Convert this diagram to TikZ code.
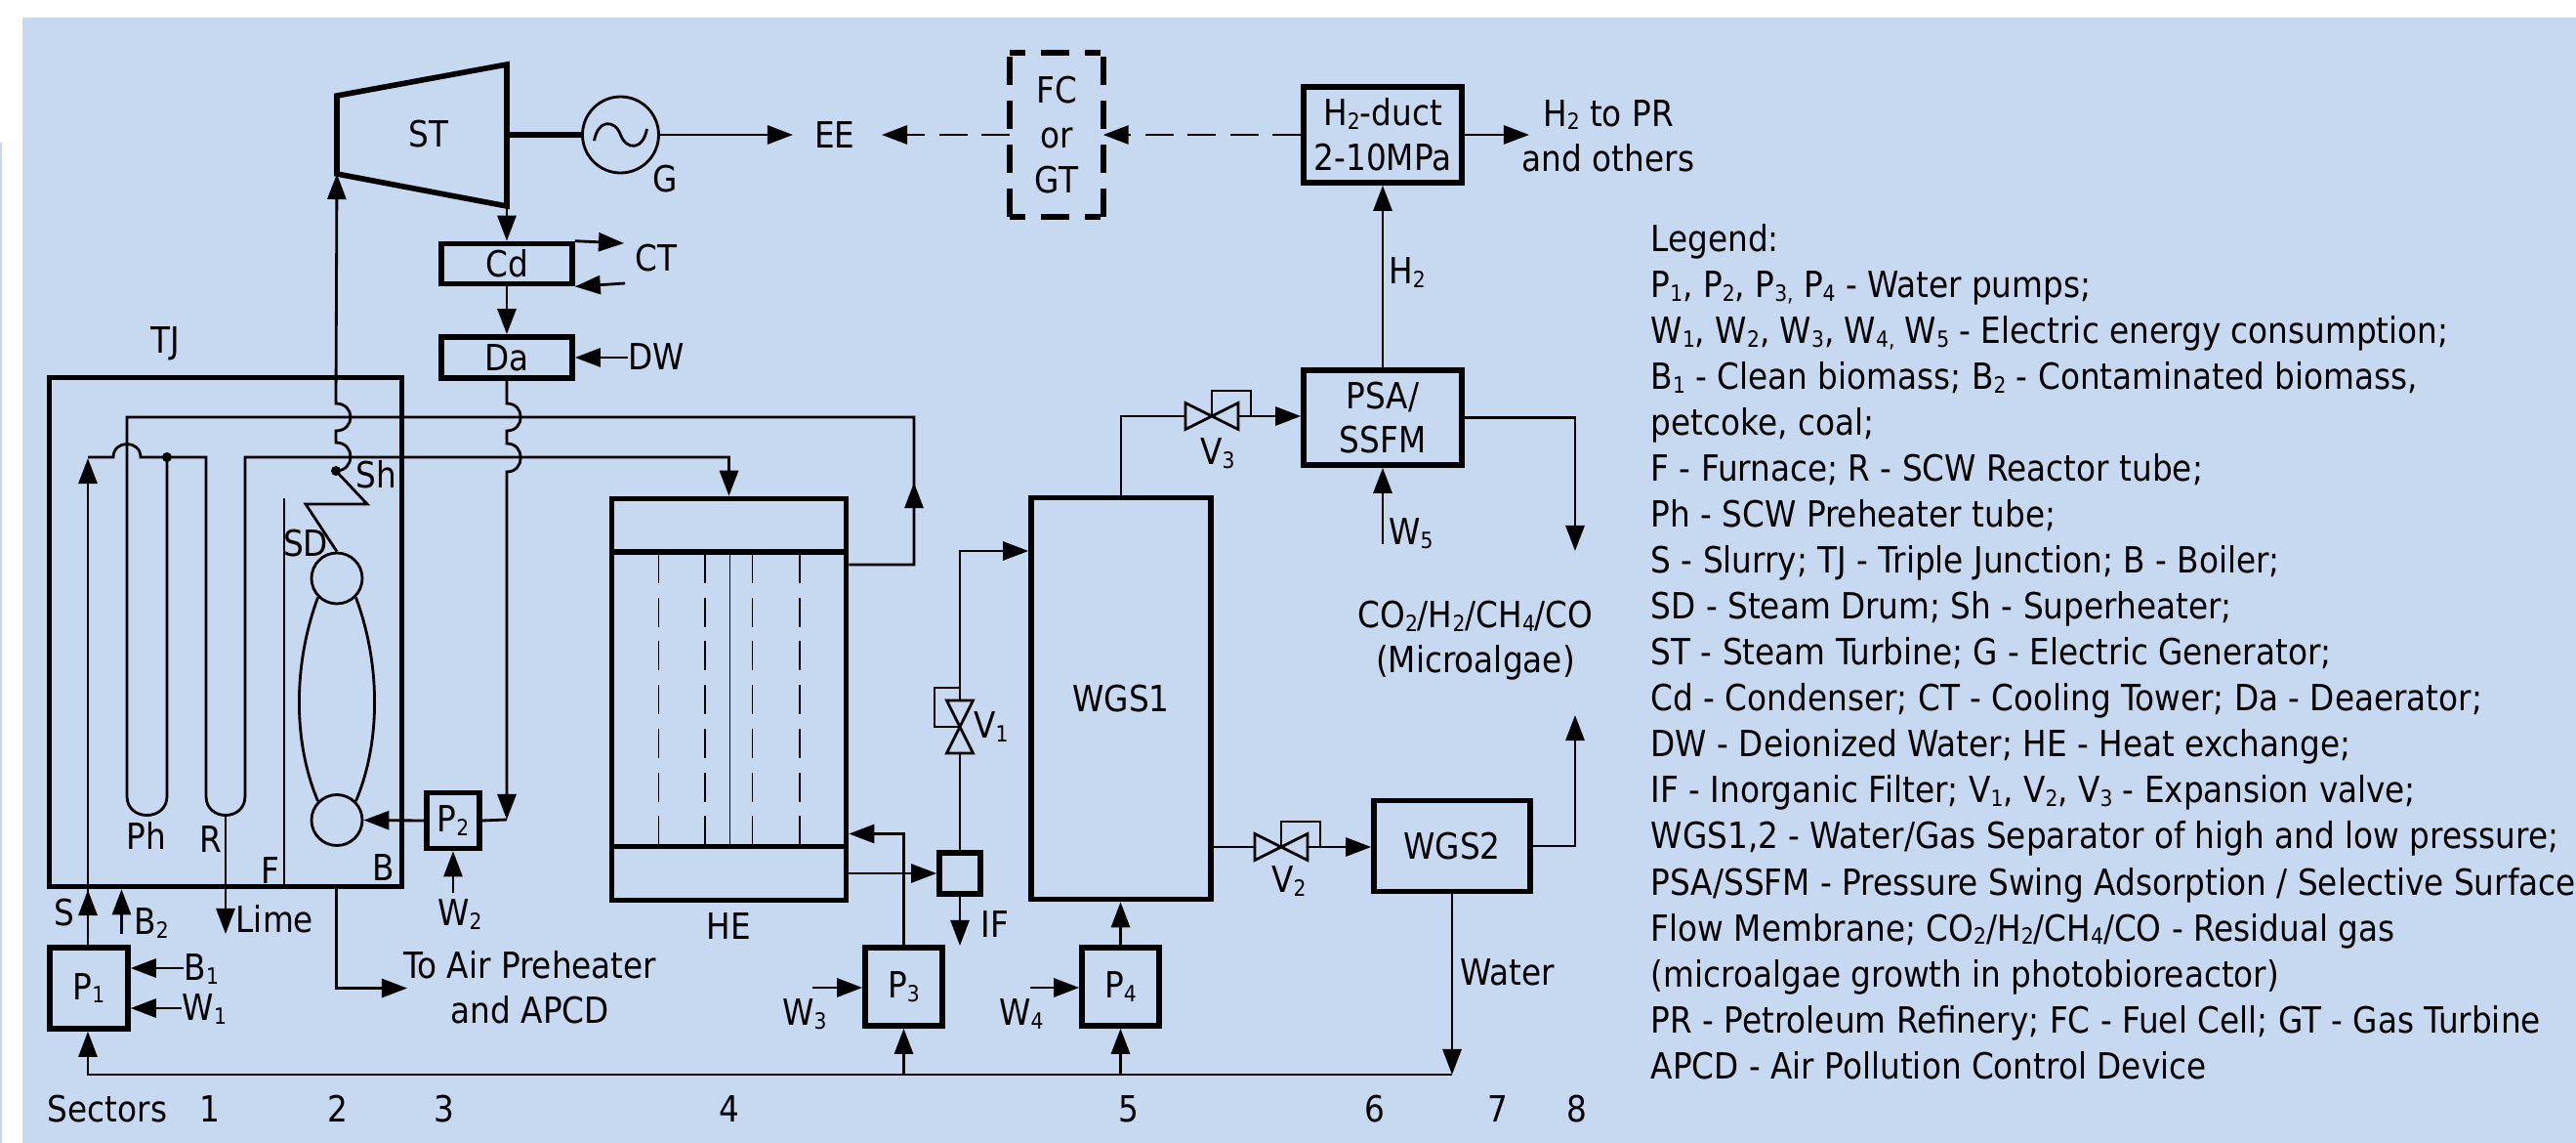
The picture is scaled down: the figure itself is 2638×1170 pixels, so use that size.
\documentclass[tikz,border=0pt]{standalone}
\usepackage{fontspec}
\setmainfont{DejaVu Sans Condensed}[FakeStretch=.985]
\usetikzlibrary{arrows.meta,positioning,calc}
\definecolor{panel}{HTML}{C6D9F1}
\newcommand{\lo}[1]{\raisebox{-.1em}{\scalebox{.62}{#1}}}
\tikzset{
  pipe/.style={draw=black,line width=0.8pt,line join=miter},
  flow/.style={pipe,-{Triangle[length=.26cm,width=.19cm]}},
  dflow/.style={flow,dash pattern=on .29cm off .145cm},
  pbox/.style={draw=black,line width=1.6pt,inner sep=0pt,align=center,
    font=\fontsize{10.5pt}{13pt}\selectfont},
  lab/.style={inner sep=0pt,align=center,font=\fontsize{10.5pt}{13pt}\selectfont,
    text height=.729em,text depth=0pt},
  twoline/.style={inner sep=0pt,align=center,font=\fontsize{10.5pt}{13.1pt}\selectfont},
  wall/.style={draw=black,line width=1.6pt,line cap=rect},
  fcside/.style={draw=black,line width=1.6pt},
  tube/.style={draw=black,line width=0.5pt},
  valve/.pic={
    \draw[pipe] (-27,-13.5)--(27,13.5)--(27,-13.5)--(-27,13.5)--cycle;
    \draw[pipe] (0,0)--(0,-26)--(40,-26)--(40,0);
    \coordinate (-in) at (-27,0);
    \coordinate (-out) at (27,0);
  },
}
\begin{document}
\begin{tikzpicture}[x=.01cm,y=-.01cm]
  \useasboundingbox (0,0) rectangle (2638,1170);
  \fill[panel] (23,18) rectangle (2638,1170);
  \fill[panel] (0,146) rectangle (2,1170);

  % --- boxes
  \node[pbox,minimum width=361*.01cm,minimum height=521*.01cm](tj) at (231,647){};
  \node[pbox,minimum width=240*.01cm,minimum height=411*.01cm](he) at (746.5,716){};
  \node[pbox,minimum width=184*.01cm,minimum height=411*.01cm](wgs1) at (1148,715){WGS1};
  \node[pbox,minimum width=160*.01cm,minimum height=93*.01cm](wgs2) at (1487,866){WGS2};
  \node[pbox,minimum width=162*.01cm,minimum height=97*.01cm](psa) at (1416,427.5){PSA/\\SSFM};
  \node[pbox,minimum width=162*.01cm,minimum height=98*.01cm](duct) at (1416,138){H\lo{2}-duct\\2-10MPa};
  \node[pbox,minimum width=134*.01cm,minimum height=41*.01cm](cd) at (519,270){Cd};
  \node[pbox,minimum width=134*.01cm,minimum height=42*.01cm](da) at (519,366){Da};
  \node[pbox,minimum width=80*.01cm,minimum height=83*.01cm](p1) at (91,1011.5){P\lo{1}};
  \node[pbox,minimum width=54*.01cm,minimum height=57*.01cm](p2) at (464,840){P\lo{2}};
  \node[pbox,minimum width=79*.01cm,minimum height=80*.01cm](p3) at (925.5,1010){P\lo{3}};
  \node[pbox,minimum width=79*.01cm,minimum height=80*.01cm](p4) at (1147.5,1010){P\lo{4}};
  \node[pbox,minimum width=42*.01cm,minimum height=42*.01cm](ifilt) at (983,894){};
  \node[twoline,minimum width=94*.01cm,minimum height=166*.01cm](fc) at (1082,138){FC\\or\\GT};
  \draw[fcside,dash pattern=on .29cm off .16cm] (fc.south west) -- (fc.north west);
  \draw[fcside,dash pattern=on .29cm off .16cm] (fc.south east) -- (fc.north east);
  \draw[fcside,dash pattern=on .16cm off .16cm on .29cm off .16cm] (fc.north west) -- (fc.north east);
  \draw[fcside,dash pattern=on .16cm off .16cm on .29cm off .16cm] (fc.south west) -- (fc.south east);

  % --- turbine and generator
  \node[lab](st) at (439,138){ST};
  \coordinate (stw) at (345,178);
  \coordinate (ste) at (519,211);
  \draw[wall,line join=miter] (345,98) -- (519,66) -- (ste) -- (stw) -- cycle;
  \node[draw=black,line width=.8pt,circle,minimum size=78*.01cm,inner sep=0pt](gen) at (635.5,138){};
  \draw[pipe] ($(gen)+(-27,6)$) .. controls +(4,-22) and +(-6,-16) .. (gen.center)
    .. controls +(6,16) and +(-4,22) .. ($(gen)+(27,-6)$);
  \draw[wall,line cap=butt] (519,138) -- (gen.west);
  \coordinate (eeout) at (812,138);
  \draw[flow] (gen.east) -- (eeout);
  \node[lab](g) at (681,184){G};
  \node[lab](ee) at (855,139){EE};
  \coordinate (eein) at (903,138);
  \draw[dflow] (fc.west) -- (eein);
  \draw[dflow] (duct.west) -- (fc.east);

  % --- condenser and deaerator
  \draw[flow] (ste) -- (cd.north);
  \draw[flow] (cd.south) -- (da.north);
  \coordinate (ctout) at (639,249);
  \coordinate (ctin) at (640,290);
  \draw[flow] (cd.north east) -- (ctout);
  \draw[flow] (ctin) -- (cd.south east);
  \node[lab](ct) at (672,265){CT};
  \node[lab](dw) at (672,366){DW};
  \draw[flow] (dw.west) -- (da.east);

  % --- furnace interior
  \node[lab](ltj) at (169,349){TJ};
  \coordinate (shdot) at (344,482);
  \coordinate (baffle) at (291,510);
  \draw[pipe] (baffle) -- (baffle |- tj.south);
  \node[draw=black,line width=.8pt,circle,minimum size=52*.01cm,inner sep=0pt](sd) at (345,592){};
  \node[draw=black,line width=.8pt,circle,minimum size=52*.01cm,inner sep=0pt](lowdrum) at (345,839.5){};
  \draw[pipe] (shdot) -- (376,516) -- (313,516) -- (sd.north);
  \draw[pipe] (sd.south west) .. controls (300,680) and (300,760) .. (lowdrum.north west);
  \draw[pipe] (sd.south east) .. controls (390,680) and (390,760) .. (lowdrum.north east);
  \fill (shdot) circle[radius=5];
  \node[lab](lsh) at (385,487){Sh};
  \node[lab](lsd) at (313,557){SD};
  \node[lab](lph) at (150,857){Ph};
  \node[lab](lr) at (216,860){R};
  \node[lab](lf) at (277,892){F};
  \node[lab](lb) at (393,889){B};

  % --- steam to turbine, water from deaerator
  \draw[flow] (shdot) .. controls (364,482) and (364,453) .. (344,453) -- (344,441)
    .. controls (364,441) and (364,413) .. (344,413) -- (stw);
  \coordinate (feed) at (519,839);
  \draw[flow] (da.south) -- (519,413) .. controls (538,413) and (538,441) .. (519,441)
    -- (519,454) .. controls (538,454) and (538,483) .. (519,483) -- (feed);
  \draw[pipe] (feed) -- (p2.east);
  \draw[flow] (p2.west) -- (lowdrum.east);
  \coordinate (wtwo) at (464,914);
  \draw[flow] (wtwo) -- (p2.south);
  \node[lab](ww) at (471,935){W\lo{2}};

  % --- slurry through preheater and reactor tubes
  \coordinate (phdot) at (171,468);
  \coordinate (hein) at (he.north);
  \draw[pipe] (he.east |- 0,578) -- (936,578) -- (936,427) -- (130,427) -- (130,815)
    .. controls (130,841) and (171,841) .. (171,815) -- (phdot);
  \draw[flow] (936,578) -- (936,494);
  \draw[flow] (90,468) -- (116,468) .. controls (116,450) and (144,450) .. (144,468)
    -- (211,468) -- (211,815) .. controls (211,841) and (251,841) .. (251,815)
    -- (251,468) -| (hein);
  \fill (phdot) circle[radius=5];
  \draw[flow] (p1.north -| 90,0) -- (90,469);
  \draw[flow] (p1.north -| 90,0) -- (90,911);
  \coordinate (btwo) at (124.5,956);
  \draw[flow] (btwo) -- (btwo |- tj.south);
  \node[lab](ls) at (66,935){S};
  \node[lab](lbt) at (155,944){B\lo{2}};
  \coordinate (limeout) at (231,956);
  \draw[flow] (231,834.5) -- (limeout);
  \node[lab,anchor=west](lime) at (241,942){Lime};

  % --- flue gas
  \coordinate (flue) at (417,1011.5);
  \draw[flow] (344.5,908) |- (flue);
  \node[twoline](apcd) at (543,1011){To Air Preheater\\and APCD};

  % --- pump 1 inputs
  \node[lab,anchor=west](bone) at (188,991){B\lo{1}};
  \node[lab,anchor=west](wone) at (186,1032){W\lo{1}};
  \draw[flow] (bone.west) -- (p1.east |- bone);
  \draw[flow] (wone.west) -- (p1.east |- wone);

  % --- heat exchanger
  \draw[wall,line cap=butt] (he.west |- 0,565) -- (he.east |- 0,565);
  \draw[wall,line cap=butt] (he.west |- 0,866.5) -- (he.east |- 0,866.5);
  \foreach \tx in {674.5,722,770.4,819}
    \draw[tube,dash pattern=on .3cm off .147cm] (\tx,567) -- (\tx,866);
  \draw[tube] (747.5,565) -- (747.5,866);
  \node[lab,below=1.1mm of he](lhe){HE};

  % --- filter, pumps 3 and 4
  \draw[flow] (he.east |- ifilt) -- (ifilt.west);
  \coordinate (ifout) at (983,968);
  \draw[flow] (ifilt.south) -- (ifout);
  \node[lab](lif) at (1019,947){IF};
  \draw[flow] (p3.north) |- (he.east |- 0,853.5);
  \coordinate (wthree) at (832,1011);
  \draw[flow] (wthree) -- (p3.west |- wthree);
  \node[lab](lwthree) at (824,1037){W\lo{3}};
  \coordinate (wfour) at (1055,1011);
  \draw[flow] (wfour) -- (p4.west |- wfour);
  \node[lab](lwfour) at (1046,1037){W\lo{4}};
  \draw[flow] (p4.north) -- (wgs1.south -| p4);

  % --- valves
  \pic[rotate=90] (va) at (983,744) {valve};
  \pic (vb) at (1312,867) {valve};
  \pic (vc) at (1241,426) {valve};
  \draw[pipe] (ifilt.north) -- (va-in);
  \coordinate (wgsin) at (wgs1.west |- 0,564);
  \draw[flow] (va-out) |- (wgsin);
  \node[lab](lva) at (1015,743){V\lo{1}};
  \draw[pipe] (wgs1.east |- vb-in) -- (vb-in);
  \draw[flow] (vb-out) -- (wgs2.west |- vb-out);
  \node[lab](lvb) at (1320,901){V\lo{2}};
  \draw[pipe] (wgs1.north) |- (vc-in);
  \draw[flow] (vc-out) -- (psa.west |- vc-out);
  \node[lab](lvc) at (1247,463){V\lo{3}};

  % --- hydrogen and residual gas
  \draw[flow] (psa.north) -- (duct.south);
  \node[lab](lhh) at (1441,278){H\lo{2}};
  \coordinate (wfive) at (1416,557);
  \draw[flow] (wfive) -- (psa.south);
  \node[lab](lwfive) at (1445,545){W\lo{5}};
  \coordinate (hhout) at (1566,138);
  \draw[flow] (duct.east) -- (hhout);
  \node[twoline](hhpr) at (1647,139){H\lo{2} to PR\\and others};
  \coordinate (gasa) at (1613,564);
  \coordinate (gasb) at (1613,732);
  \draw[flow] (psa.east) -| (gasa);
  \draw[flow] (wgs2.east) -| (gasb);
  \node[twoline](algae) at (1511,656){CO\lo{2}/H\lo{2}/CH\lo{4}/CO\\(Microalgae)};

  % --- water return
  \coordinate (wret) at (1487,1100);
  \draw[flow] (wgs2.south -| wret) -- (wret);
  \node[lab](lwater) at (1544,996){Water};
  \draw[flow] (wret) -| (p1.south -| 90,0);
  \draw[flow] (925.5,1100) -- (p3.south);
  \draw[flow] (1147.5,1100) -- (p4.south);

  % --- sectors
  \node[lab](lsec) at (110,1136){Sectors};
  \foreach \sx/\sn in {215/1,346/2,455/3,747/4,1156/5,1408/6,1534/7,1615/8}
    \node[lab](sec\sn) at (\sx,1136){\sn};

  % --- legend
  \node[inner sep=0pt,anchor=north west,align=left,font=\fontsize{10.5pt}{13.37pt}\selectfont](legend) at (1690,229){%
    Legend:\\
    P\lo{1}, P\lo{2}, P\lo{3,} P\lo{4} - Water pumps;\\
    W\lo{1}, W\lo{2}, W\lo{3}, W\lo{4,} W\lo{5} - Electric energy consumption;\\
    B\lo{1} - Clean biomass; B\lo{2} - Contaminated biomass,\\
    petcoke, coal;\\
    F - Furnace; R - SCW Reactor tube;\\
    Ph - SCW Preheater tube;\\
    S - Slurry; TJ - Triple Junction; B - Boiler;\\
    SD - Steam Drum; Sh - Superheater;\\
    ST - Steam Turbine; G - Electric Generator;\\
    Cd - Condenser; CT - Cooling Tower; Da - Deaerator;\\
    DW - Deionized Water; HE - Heat exchange;\\
    IF - Inorganic Filter; V\lo{1}, V\lo{2}, V\lo{3} - Expansion valve;\\
    WGS1,2 - Water/Gas Separator of high and low pressure;\\
    PSA/SSFM - Pressure Swing Adsorption / Selective Surface\\
    Flow Membrane; CO\lo{2}/H\lo{2}/CH\lo{4}/CO - Residual gas\\
    (microalgae growth in photobioreactor)\\
    PR - Petroleum Refinery; FC - Fuel Cell; GT - Gas Turbine\\
    APCD - Air Pollution Control Device};
\end{tikzpicture}
\end{document}
